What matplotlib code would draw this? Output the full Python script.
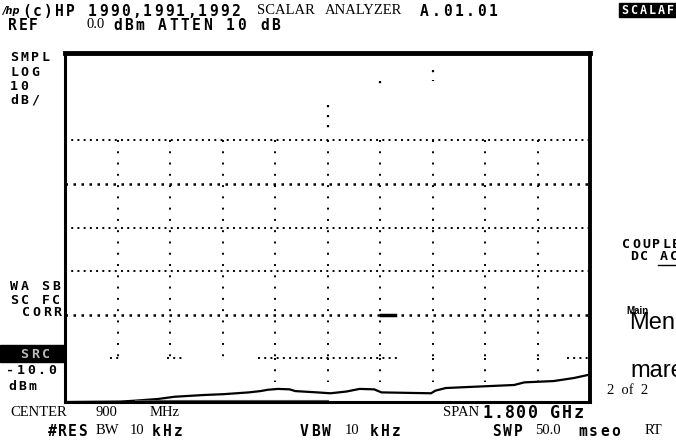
import matplotlib.pyplot as plt
from matplotlib.patches import Rectangle

W, H = 676, 446

# trace: frequency (MHz) vs level (dBm)
freq_mhz = [0, 190, 240, 320, 375, 475, 545, 630, 670, 695, 730, 770, 790, 865,
            910, 965, 1010, 1060, 1085, 1255, 1270, 1305, 1370, 1540, 1575,
            1675, 1745, 1800]
level_dbm = [-80.0, -79.9, -79.7, -79.3, -78.8, -78.4, -78.2, -77.8, -77.5,
             -77.2, -77.0, -77.1, -77.5, -77.8, -78.0, -77.6, -77.0, -77.1,
             -77.8, -78.0, -77.4, -76.8, -76.6, -76.1, -75.5, -75.2, -74.5,
             -73.7]

# graticule (what survived on the screen)
grid_rows = [-20, -30, -40, -50, -60]
bold_rows = [-30, -60]
grid_cols = [180, 360, 540, 720, 900, 1080, 1260, 1440, 1620]
row70_pieces = [(155, 185), (350, 410), (660, 1140), (1720, 1800)]
low_cols = [720, 900, 1080, 1260, 1440, 1620]
top_stubs = [(900, -12.0, -18.5), (1080, -6.5, -8.3), (1260, -4.0, -6.4)]

fig = plt.figure(figsize=(W / 100, H / 100), dpi=100)
ax = fig.add_axes([65 / W, 1 - 402 / H, 525 / W, 349 / H])
ax.set_xlim(0, 1800)
ax.set_ylim(-80, 0)
ax.set_xticks([])
ax.set_yticks([])
ax.spines['top'].set_linewidth(3.5)
ax.spines['right'].set_linewidth(2.8)
ax.spines['left'].set_linewidth(2.2)
ax.spines['bottom'].set_linewidth(2.2)

hdots = dict(color='black', lw=1.4, dashes=(1, 2.2))
vdots = dict(color='black', lw=1.4, dashes=(1, 4.8))

for r in grid_rows:
    kw = dict(hdots)
    if r in bold_rows:
        kw['lw'] = 1.8
    ax.plot([0, 1800], [r, r], **kw)
for a, b in row70_pieces:
    ax.plot([a, b], [-70, -70], **hdots)
ax.plot([1085, 1130], [-60, -60], color='black', lw=2.5)

for c in grid_cols:
    ax.plot([c, c], [-20, -70], **vdots)
for c in low_cols:
    ax.plot([c, c], [-70, -75.5], **vdots)
for c, y0, y1 in top_stubs:
    ax.plot([c, c], [y0, y1], color='black', lw=1.6, dashes=(1, 3.5))

ax.plot(freq_mhz, level_dbm, color='black', lw=1.6)
ax.plot([240, 900], [-79.6, -79.6], color='#555555', lw=0.8)


def px(x, y):
    return x / W, 1 - y / H


def block(x, y, s, adv=10.5, size=10.5, color='black'):
    # the analyzer's pixel font: fixed pitch, wide cells
    for i, ch in enumerate(s):
        if ch != ' ':
            fig.text(*px(x + i * adv, y), ch, family='DejaVu Sans Mono',
                     weight='bold', fontsize=size, color=color,
                     va='center', ha='left')


serif = dict(family='Liberation Serif', va='center', ha='left')

# header
fig.text(*px(3, 11), '/hp', style='italic', fontsize=7, family='DejaVu Sans',
         weight='bold', va='center', ha='left')
block(22, 11, '(c)HP 1990,1991,1992', adv=11.0)
fig.text(*px(257, 11), 'SCALAR', fontsize=10.5, **serif)
fig.text(*px(325, 11), 'ANALYZER', fontsize=10.5, **serif)
block(420, 11, 'A.01.01', adv=11.4)
block(8, 25, 'REF', adv=10.5)
fig.text(*px(86, 25), '0.0', fontsize=10.5, **serif)
block(113, 25, 'dBm ATTEN 10 dB', adv=11.3)

fig.patches.append(Rectangle(px(619, 17), 57 / W, 14 / H, transform=fig.transFigure,
                             color='black'))
block(621, 10, 'SCALAF', adv=9.3, size=8.5, color='white')

# left annotations
for txt, x, y in [('SMPL', 10, 58), ('LOG', 10, 73), ('10', 10, 87), ('dB/', 10, 100),
                  ('WA SB', 10, 287), ('SC FC', 10, 300), ('CORR', 22, 313),
                  ('-10.0', 6, 370), ('dBm', 8, 386)]:
    block(x, y, txt, size=9.5)
fig.patches.append(Rectangle(px(0, 362), 64 / W, 17 / H, transform=fig.transFigure,
                             color='black'))
block(20, 354, 'SRC', adv=11, size=9.5, color='#bbbbbb')

# right softkeys
block(622, 245, 'COUPLE', adv=10, size=9.5)
block(630, 257, 'DC AC', adv=10, size=9.5)
fig.lines.append(plt.Line2D([658 / W, 676 / W], [1 - 265 / H, 1 - 265 / H],
                            transform=fig.transFigure, color='black', lw=1))
fig.text(*px(629, 323), 'Menu', fontsize=17, family='Liberation Sans',
         va='center', ha='left')
fig.text(*px(626, 311), 'Main', fontsize=7, family='Liberation Sans',
         weight='bold', va='center', ha='left')
fig.text(*px(630, 371), 'mare', fontsize=17, family='Liberation Sans',
         va='center', ha='left')
fig.text(*px(607, 390), '2  of  2', fontsize=10.5, **serif)

# footer
fig.text(*px(10, 413), 'CENTER', fontsize=10.5, **serif)
fig.text(*px(96, 413), '900', fontsize=10.5, **serif)
fig.text(*px(150, 413), 'MHz', fontsize=10.5, **serif)
fig.text(*px(443, 413), 'SPAN', fontsize=10.5, **serif)
block(482, 413, '1.800 GHz', adv=11.4, size=12)
block(48, 431, '#RES', adv=10)
fig.text(*px(96, 431), 'BW', fontsize=10.5, **serif)
fig.text(*px(130, 431), '10', fontsize=10.5, **serif)
block(152, 431, 'kHz', adv=11)
block(300, 431, 'VBW', adv=11)
fig.text(*px(345, 431), '10', fontsize=10.5, **serif)
block(370, 431, 'kHz', adv=11)
block(492, 431, 'SWP', adv=11)
fig.text(*px(535, 431), '50.0', fontsize=10.5, **serif)
block(578, 431, 'mseo', adv=11)
fig.text(*px(645, 431), 'RT', fontsize=10.5, **serif)

fig.savefig('out.png', dpi=100)
